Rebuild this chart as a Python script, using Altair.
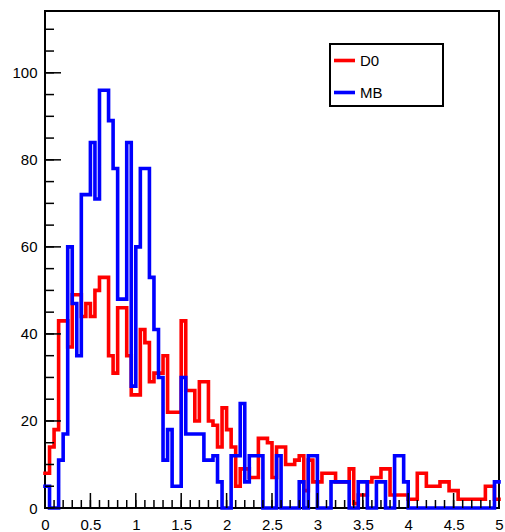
import altair as alt
import pandas as pd

FONT = "Liberation Sans"

# ---------------- data ----------------
bin_width = 0.05
x_max = 5.0

d0_counts = [8, 14, 18, 43, 43, 37, 49, 49, 44, 47,
             44, 50, 53, 53, 35, 31, 46, 46, 35, 26,
             26, 41, 38, 29, 31, 31, 35, 22, 22, 22,
             43, 27, 27, 20, 29, 29, 20, 19, 14, 23,
             18, 14, 5, 9, 9, 7, 7, 16, 16, 15,
             7, 14, 14, 10, 10, 11, 12, 4, 11, 6,
             6, 8, 8, 8, 6, 6, 6, 9, 1, 3,
             3, 6, 7, 7, 9, 9, 3, 3, 3, 3,
             2, 2, 8, 8, 5, 5, 5, 6, 6, 4,
             4, 2, 2, 2, 2, 2, 2, 5, 5, 2]

mb_counts = [5, 0, 0, 11, 17, 60, 47, 35, 72, 72,
             84, 71, 96, 96, 89, 78, 48, 48, 84, 28,
             60, 78, 78, 53, 41, 30, 11, 18, 5, 5,
             30, 17, 17, 17, 17, 11, 11, 12, 6, 0,
             0, 12, 12, 24, 6, 12, 12, 12, 0, 0,
             0, 12, 0, 0, 0, 0, 6, 0, 12, 12,
             0, 0, 0, 6, 6, 6, 6, 0, 0, 6,
             6, 0, 0, 6, 6, 0, 0, 12, 12, 6,
             0, 0, 0, 0, 0, 0, 0, 0, 0, 0,
             0, 0, 0, 0, 0, 0, 0, 0, 0, 6]

series_names = ["D0", "MB"]
series_colors = ["#ff0000", "#0000ff"]

x_major_ticks = [0, 0.5, 1, 1.5, 2, 2.5, 3, 3.5, 4, 4.5, 5]
x_minor_ticks = [round(0.1 * i, 1) for i in range(51)]
y_major_ticks = [0, 20, 40, 60, 80, 100]
y_minor_ticks = [5 * i for i in range(23)]
y_max = 114.2

# ---------------- tables ----------------
rows = []
for name, counts in zip(series_names, [d0_counts, mb_counts]):
    for i, c in enumerate(counts):
        rows.append({"series": name, "x": round(i * bin_width, 4), "count": c})
    rows.append({"series": name, "x": x_max, "count": counts[-1]})
hist = pd.DataFrame(rows)

W, H = 454, 497
xs = alt.Scale(domain=[0, x_max], nice=False, zero=False)
ys = alt.Scale(domain=[0, y_max], nice=False, zero=False)

lines = alt.Chart(hist).mark_line(
    interpolate="step-after", strokeWidth=3.6, strokeJoin="miter", strokeCap="square"
).encode(
    x=alt.X("x:Q", scale=xs, title=None,
            axis=alt.Axis(values=x_major_ticks, labelExpr="datum.value", ticks=False,
                          domain=False, grid=False, labelPadding=9, labelFontSize=15,
                          labelFont=FONT, labelColor="black", labelFlush=False,
                          labelOverlap=False)),
    y=alt.Y("count:Q", scale=ys, title=None,
            axis=alt.Axis(values=y_major_ticks, ticks=False, domain=False, grid=False,
                          labelPadding=8, labelFontSize=15, labelFont=FONT,
                          labelColor="black", labelFlush=False, labelOverlap=False)),
    color=alt.Color("series:N",
                    scale=alt.Scale(domain=series_names, range=series_colors),
                    legend=alt.Legend(orient="none", legendX=287, legendY=37, title=None,
                                      symbolType="stroke", symbolStrokeWidth=3.6,
                                      symbolSize=441, labelFontSize=15, labelFont=FONT,
                                      labelColor="black", labelOffset=3, rowPadding=11,
                                      padding=0, direction="vertical")),
)

x_major = alt.Chart(pd.DataFrame({"x": x_major_ticks})).mark_rule(
    color="black", strokeWidth=1.5).encode(
    x=alt.X("x:Q", scale=xs), y=alt.value(H), y2=alt.value(H - 15))
x_minor = alt.Chart(pd.DataFrame({"x": x_minor_ticks})).mark_rule(
    color="black", strokeWidth=1.5).encode(
    x=alt.X("x:Q", scale=xs), y=alt.value(H), y2=alt.value(H - 8))
y_major = alt.Chart(pd.DataFrame({"count": y_major_ticks})).mark_rule(
    color="black", strokeWidth=1.5).encode(
    y=alt.Y("count:Q", scale=ys), x=alt.value(0), x2=alt.value(16))
y_minor = alt.Chart(pd.DataFrame({"count": y_minor_ticks})).mark_rule(
    color="black", strokeWidth=1.5).encode(
    y=alt.Y("count:Q", scale=ys), x=alt.value(0), x2=alt.value(9))

legend_box = alt.Chart(pd.DataFrame({"k": [0]})).mark_rect(
    fill="white", stroke="black", strokeWidth=2).encode(
    x=alt.value(285), x2=alt.value(398), y=alt.value(33), y2=alt.value(95))

chart = alt.layer(lines, x_minor, x_major, y_minor, y_major, legend_box).properties(
    width=W, height=H,
    autosize=alt.AutoSizeParams(type="none"),
    padding={"left": 45, "top": 11, "right": 6, "bottom": 24},
    background="white",
).configure_view(stroke="black", strokeWidth=2)

chart.save("out.html", embed_options={"renderer": "svg", "actions": False})
